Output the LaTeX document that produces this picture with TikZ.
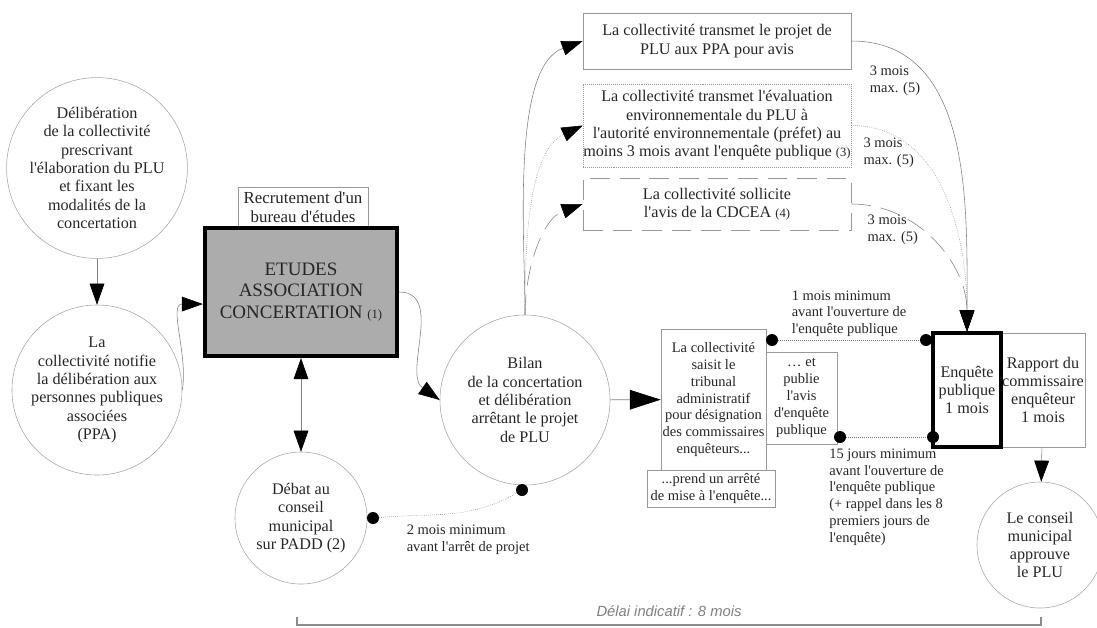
\documentclass[tikz,border=0pt]{standalone}
\usepackage{fontspec}
\setmainfont{Liberation Serif}[Ligatures=TeXOff]
\newfontfamily\delaifont{Liberation Sans}
\usetikzlibrary{arrows.meta}

\begin{document}
\begin{tikzpicture}[x=0.025cm,y=-0.025cm,
	big/.style={font=\fontsize{11.5}{13}\selectfont,text=black!85,align=center},
	small/.style={font=\fontsize{10.3}{12}\selectfont,text=black!85,align=center},
	circ/.style={circle,draw=gray!70,big,inner sep=0pt},
	box/.style={rectangle,draw=gray!80,big,inner sep=0pt},
	dot/.style={circle,fill=black,inner sep=0pt,minimum size=0.3cm},
	lbl/.style={small,align=left,inner sep=2pt},
	>={Triangle[length=15pt,width=10.5pt,color=black]}]
	\useasboundingbox (0,0) rectangle (1097,627);
	\node[circ,minimum size=4.3cm] (D1) at (97,168) {Délibération\\de la collectivité\\prescrivant\\l'élaboration du PLU\\et fixant les\\modalités de la\\concertation};
	\node[circ,minimum size=4.25cm] (N1) at (97,390) {La\\collectivité notifie\\la délibération aux\\personnes publiques\\associées\\(PPA)};
	\node[box,minimum width=3.25cm,minimum height=1cm,font=\fontsize{12}{13.5}\selectfont] (R) at (303,207) {Recrutement d'un\\bureau d'études};
	\node[box,draw=black,line width=3pt,fill=gray!65,minimum width=4.8cm,minimum height=3.2cm,font=\fontsize{13.5}{15.6}\selectfont] (E) at (301,292) {ETUDES\\ASSOCIATION\\CONCERTATION {\fontsize{9}{10}\selectfont(1)}};
	\node[circ,minimum size=3.3cm] (Dbt) at (301,518) {Débat au\\conseil\\municipal\\sur PADD (2)};
	\node[circ,minimum size=4.25cm] (B) at (525,400) {Bilan\\de la concertation\\et délibération\\arrêtant le projet\\de PLU};
	\node[box,minimum width=6.7cm,minimum height=1.4cm] (P1) at (717,41) {La collectivité transmet le projet de\\PLU aux PPA pour avis};
	\node[box,densely dotted,minimum width=6.7cm,minimum height=2.075cm] (P2) at (717,125.5) {La collectivité transmet l'évaluation\\environnementale du PLU à\\l'autorité environnementale (préfet) au\\moins 3 mois avant l'enquête publique {\fontsize{9}{10}\selectfont(3)}};
	\node[box,dash pattern=on 14pt off 7pt,minimum width=6.7cm,minimum height=1.3cm] (P3) at (717,204) {La collectivité sollicite\\l'avis de la CDCEA {\fontsize{9}{10}\selectfont(4)}};
	\node[box,small,minimum width=2.625cm,minimum height=3.525cm] (S) at (713.5,399.5) {La collectivité\\saisit le\\tribunal\\administratif\\pour désignation\\des commissaires\\enquêteurs...};
	\node[box,small,minimum width=3.2cm,minimum height=0.925cm] (A) at (711,488.5) {...prend un arrêté\\de mise à l'enquête...};
	\node[box,small,minimum width=1.775cm,minimum height=2.3cm] (Pub) at (801.5,398) {… et\\publie\\l'avis\\d'enquête\\publique};
	\node[box,minimum width=2.1cm,minimum height=2.85cm] (Rap) at (1043,390) {Rapport du\\commissaire\\enquêteur\\1 mois};
	\node[box,draw=black,line width=2.2pt,minimum width=1.7cm,minimum height=2.85cm] (Q) at (967,390) {Enquête\\publique\\1 mois};
	\node[circ,minimum size=3.15cm] (F) at (1040,545) {Le conseil\\municipal\\approuve\\le PLU};
	\node[dot] (d1) at (373,518) {};
	\node[dot] (d2) at (522,490) {};
	\node[dot] (d3) at (772,340) {};
	\node[dot] (d4) at (926,340) {};
	\node[dot] (d5) at (840,437) {};
	\node[dot] (d6) at (933,437) {};
	\draw[gray,->] (D1) -- (N1);
	\draw[gray,->] (N1.east) to[out=80,in=180] (E.187);
	\draw[gray,<->] (E) -- (Dbt);
	\draw[gray,->] (E.east) to[out=0,in=145] (B.west);
	\draw[gray,-{Triangle[length=22pt,width=14pt,color=black]}] (B) -- (S);
	\draw[gray,->] (B.north) to[out=90,in=200,looseness=.7] (P1.west);
	\draw[gray,densely dotted,->] (B.north) to[out=90,in=205,looseness=.8] (P2.west);
	\draw[gray,dash pattern=on 14pt off 7pt,->] (B.north) to[out=90,in=200,looseness=.9] (P3.west);
	\draw[gray,->] (P1.east) to[out=0,in=90] node[pos=.3,left=5pt,lbl] {3 mois\\max. (5)} (Q.north);
	\draw[gray,densely dotted,->] (P2.east) to[out=0,in=90] node[pos=.3,left,lbl] {3 mois\\max. (5)} (Q.north);
	\draw[gray,dash pattern=on 14pt off 7pt,->] (P3.east) to[out=0,in=90] node[pos=.4,left,lbl] {3 mois\\max. (5)} (Q.north);
	\draw[gray,densely dotted] (d1) to[out=5,in=-150] node[pos=.12,below right=4pt,lbl] {2 mois minimum\\avant l'arrêt de projet} (d2);
	\draw[gray,densely dotted] (d3) -- node[above,lbl] {1 mois minimum\\avant l'ouverture de\\l'enquête publique} (d4);
	\draw[gray,densely dotted] (d5) -- node[below=6pt,lbl] {15 jours minimum\\avant l'ouverture de\\l'enquête publique\\(+ rappel dans les 8\\premiers jours de\\l'enquête)} (d6);
	\draw[gray,->] (Rap) -- (F);
	\coordinate (L0) at (297,625);
	\coordinate (L1) at (1041,625);
	\draw[gray!90,line width=0.8pt] (L0) ++(0,-8) -- (L0) -- node[above=2pt,font=\delaifont\itshape\fontsize{10.5}{12}\selectfont,text=gray] {Délai indicatif : 8 mois} (L1) -- ++(0,-8);
\end{tikzpicture}
\end{document}
